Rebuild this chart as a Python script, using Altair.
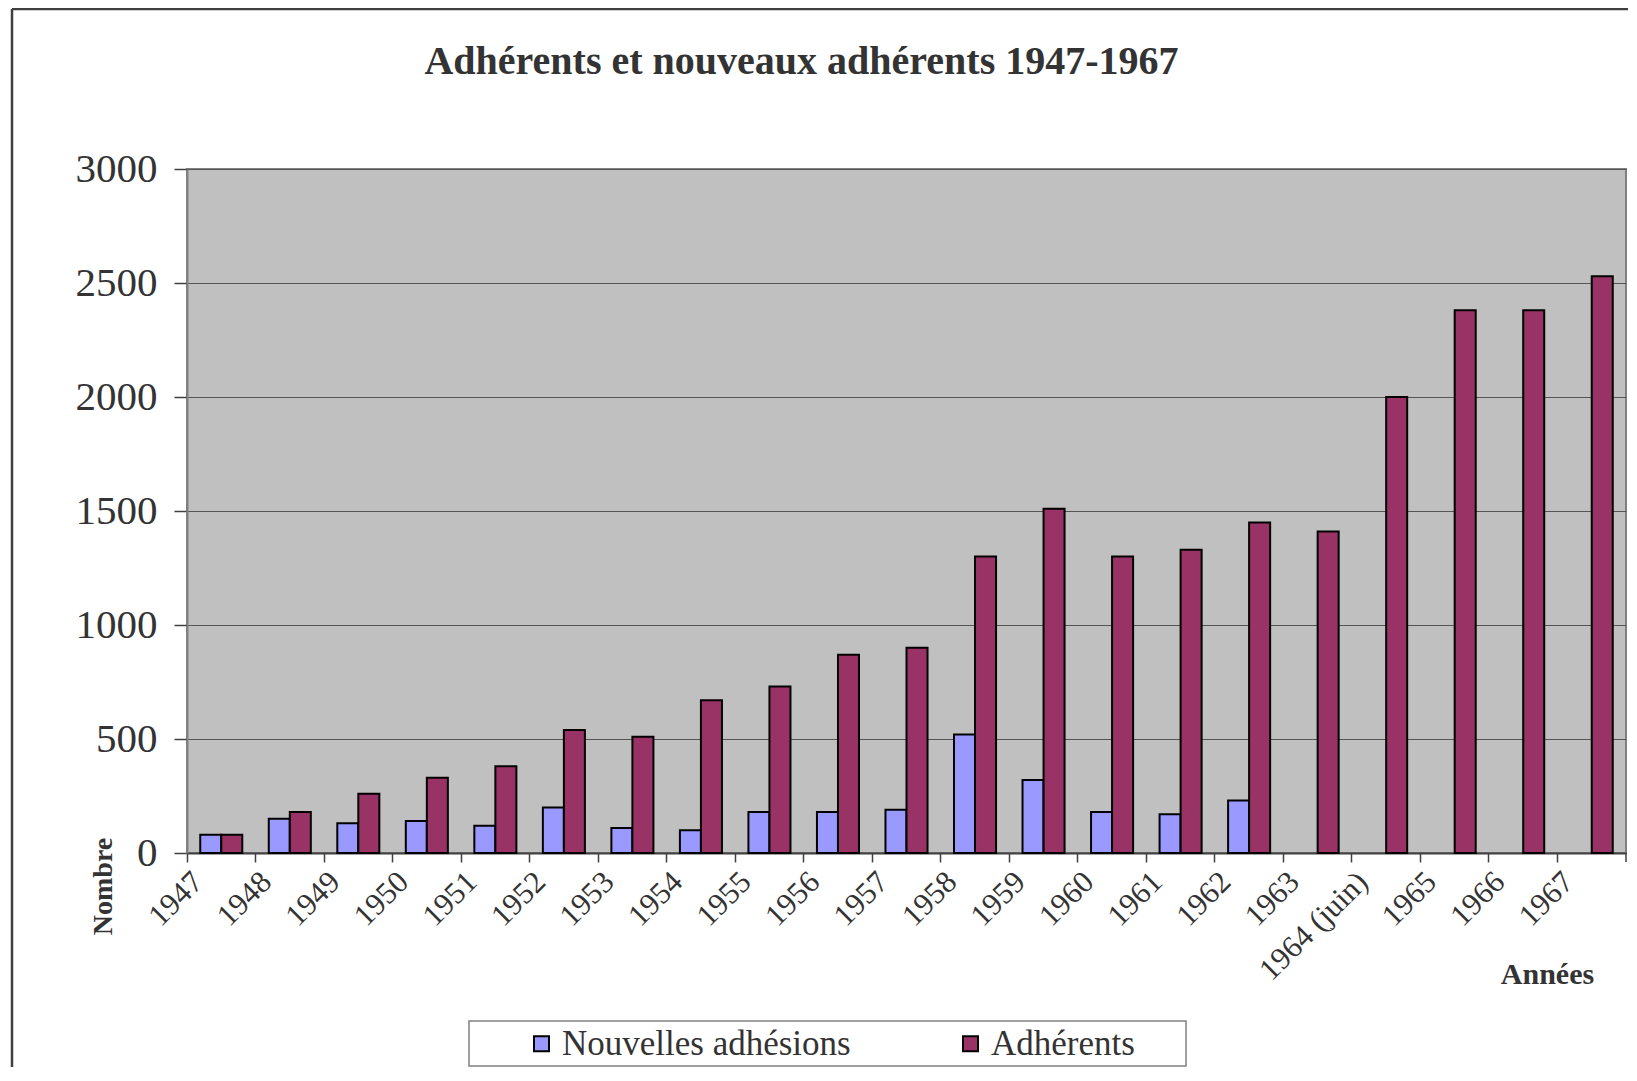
import altair as alt
import pandas as pd

categories = ["1947", "1948", "1949", "1950", "1951", "1952", "1953", "1954",
              "1955", "1956", "1957", "1958", "1959", "1960", "1961", "1962",
              "1963", "1964 (juin)", "1965", "1966", "1967"]
nouvelles = [80, 150, 130, 140, 120, 200, 110, 100, 180, 180, 190, 520, 320,
             180, 170, 230, None, None, None, None, None]
adherents = [80, 180, 260, 330, 380, 540, 510, 670, 730, 870, 900, 1300, 1510,
             1300, 1330, 1450, 1410, 2000, 2380, 2380, 2530]
series_names = ["Nouvelles adhésions", "Adhérents"]
series_colors = ["#9999FF", "#993366"]
y_ticks = [0, 500, 1000, 1500, 2000, 2500, 3000]

rows = []
for c, n, a in zip(categories, nouvelles, adherents):
    if n is not None:
        rows.append({"Année": c, "Série": series_names[0], "Nombre": n})
    rows.append({"Année": c, "Série": series_names[1], "Nombre": a})
df = pd.DataFrame(rows)

FONT = "Liberation Serif"
W, H = 1439, 684

bars = alt.Chart(df).mark_bar(stroke="black", strokeWidth=2).encode(
    x=alt.X("Année:N", sort=categories,
            scale=alt.Scale(domain=categories, paddingInner=0, paddingOuter=0),
            axis=alt.Axis(title="Années", labelAngle=315, labelAlign="right",
                          labelBaseline="middle", bandPosition=0, labelOffset=-23,
                          labelPadding=15, tickSize=9, tickColor="#404040",
                          tickWidth=1.5, domainColor="#404040", domainWidth=2,
                          labelFont=FONT, labelFontSize=31, labelColor="#333333",
                          titleFont=FONT, titleFontSize=30, titleFontWeight="bold",
                          titleColor="#333333", titleX=1360, titleY=121,
                          titleAlign="center", titleBaseline="middle",
                          labelOverlap=False, grid=False)),
    xOffset=alt.XOffset("Série:N", sort=series_names,
                        scale=alt.Scale(domain=series_names, paddingInner=0,
                                        paddingOuter=0.63)),
    y=alt.Y("Nombre:Q", scale=alt.Scale(domain=[0, 3000], nice=False),
            axis=alt.Axis(title="Nombre", values=y_ticks, format="d",
                          tickSize=13, tickColor="#404040", tickWidth=1.5,
                          domainColor="#808080", domainWidth=2,
                          gridColor="#555555", gridWidth=1,
                          labelFont=FONT, labelFontSize=41, labelColor="#333333",
                          labelPadding=17,
                          titleFont=FONT, titleFontSize=28, titleFontWeight="bold",
                          titleColor="#333333", titleAngle=270, titleX=-84,
                          titleY=717, titleAlign="center",
                          titleBaseline="middle")),
    color=alt.Color("Série:N",
                    scale=alt.Scale(domain=series_names, range=series_colors),
                    legend=alt.Legend(title=None, orient="none", direction="horizontal",
                                      legendX=337, legendY=857, padding=0,
                                      symbolType="square", symbolSize=225,
                                      symbolStrokeColor="black", symbolStrokeWidth=2,
                                      symbolOpacity=1, labelFont=FONT,
                                      labelFontSize=35, labelColor="#333333",
                                      labelOffset=3, columnPadding=102,
                                      labelLimit=0)),
)

one = pd.DataFrame({"k": [0]})
frame_left = alt.Chart(one).mark_rule(color="#404040", strokeWidth=2.5).encode(
    x=alt.value(-175), y=alt.value(-160), y2=alt.value(900))
frame_top = alt.Chart(one).mark_rule(color="#404040", strokeWidth=2.5).encode(
    x=alt.value(-175), x2=alt.value(1445), y=alt.value(-160))
end_tick = alt.Chart(one).mark_rule(color="#404040", strokeWidth=1.5).encode(
    x=alt.value(W), y=alt.value(H), y2=alt.value(H + 9))
legend_box = alt.Chart(one).mark_rect(fill="white", stroke="#808080",
                                      strokeWidth=1.5).encode(
    x=alt.value(282), x2=alt.value(999), y=alt.value(852), y2=alt.value(897))

chart = alt.layer(legend_box, bars, end_tick, frame_left, frame_top).properties(
    width=W, height=H,
    autosize=alt.AutoSizeParams(type="none"),
    padding={"left": 179, "top": 161, "right": 2, "bottom": 214},
    background="white",
    title=alt.TitleParams(text="Adhérents et nouveaux adhérents 1947-1967",
                          font=FONT, fontSize=40, fontWeight="bold",
                          color="#333333", anchor="middle", frame="group",
                          dx=-105, baseline="alphabetic", offset=-106),
).configure_view(
    fill="#C0C0C0", stroke="#808080", strokeWidth=2
)

chart.save("out.html", embed_options={"renderer": "svg", "actions": False})
